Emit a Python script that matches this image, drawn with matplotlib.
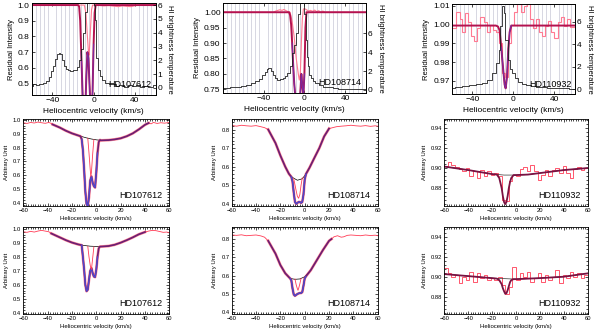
import numpy as np
import matplotlib
matplotlib.use('Agg')
import matplotlib.pyplot as plt
from matplotlib.ticker import MultipleLocator, FormatStrFormatter

plt.rcParams['font.family'] = ['Liberation Sans', 'DejaVu Sans']

# ---------------- top row: residual intensity + HI brightness temperature
stars = ['HD107612', 'HD108714', 'HD110932']

p1_hi_v = [-60, -57, -54, -51, -48, -45, -42, -40, -38, -36, -34, -33, -32, -30, -28, -26, -24, -21,
           -18, -15, -13, -11, -9.5, -7, -5, -3, -1, 1, 2, 3.5, 5, 7, 10, 13, 17, 20, 23, 27, 31, 35,
           39, 43, 47, 51, 55, 60]
p1_hi_t = [0.15, 0.25, 0.18, 0.3, 0.35, 0.5, 0.8, 1.2, 1.6, 2.1, 2.45, 2.55, 2.45, 2.0, 1.6, 1.35, 1.3,
           1.2, 1.3, 1.55, 2.0, 2.8, 4.0, 5.5, 6.5, 7.0, 7.0, 6.0, 4.9, 2.2, 1.3, 0.83, 0.55, 0.36, 0.25,
           0.3, 0.12, 0.2, 0.1, 0.18, 0.12, 0.2, 0.08, 0.15, 0.1, 0.18]
p1_fit_v = [-60, -15, -14, -13, -12, -11, -10, -9, -8, -7, -6, -5, -4, -3, -2, -1, 0, 1, 2, 60]
p1_fit_i = [1, 1, 0.99, 0.9, 0.7, 0.5, 0.3, 0.25, 0.35, 0.55, 0.7, 0.66, 0.5, 0.35, 0.3, 0.45, 0.75,
            0.95, 1, 1]
p1_obs_v = [-60, -30, -20, -15, -10, -9, -7.5, -6, -5, -4.5, -4, -3, -2, -1, 0, 5, 10, 15, 20, 24, 28,
            32, 36, 40, 45, 50, 60]
p1_obs_i = [1, 1, 0.998, 1, 1, 1, 0.95, 0.8, 0.7, 0.68, 0.72, 0.85, 0.97, 1, 1, 0.998, 0.995, 0.997,
            0.993, 0.99, 0.995, 0.992, 0.99, 0.996, 1, 1, 1]

p2_hi_v = [-80, -75, -70, -65, -60, -55, -50, -46, -43, -40, -38, -36, -35, -34, -32, -30, -28, -25,
           -22, -20, -18, -16, -13, -10.5, -9, -7.3, -5, -3, -1, 0.5, 1.7, 3, 4, 5.5, 7, 9, 12, 16,
           20, 25, 30, 35, 40, 45, 50, 55, 60]
p2_hi_t = [0.18, 0.25, 0.3, 0.35, 0.42, 0.55, 0.7, 0.95, 1.2, 1.6, 1.9, 2.25, 2.36, 2.3, 2.0, 1.6,
           1.27, 1.06, 1.15, 1.3, 1.5, 1.77, 2.5, 3.9, 4.8, 6.0, 8.0, 9.5, 10.0, 8.0, 5.3, 3.5, 2.5,
           1.6, 1.3, 0.95, 0.7, 0.5, 0.35, 0.28, 0.2, 0.15, 0.14, 0.1, 0.12, 0.08, 0.07]
p2_fit_v = [-80, -15, -14, -13, -12, -11, -10, -9, -8, -7, -6, -5, -4, -3, -2, -1, 0, 1, 2, 60]
p2_fit_i = [1, 1, 0.99, 0.96, 0.9, 0.83, 0.77, 0.73, 0.71, 0.70, 0.72, 0.70, 0.74, 0.80, 0.76, 0.73,
            0.8, 0.95, 1.0, 1.0]
p2_obs_v = [-80, -30, -28, -26, -24, -22, -20, -18, -16, -14, -12, -10, -8, -6, -5, -4, -3, -2, -1,
            0, 2, 4, 6, 8, 10, 12, 14, 16, 18, 20, 22, 60]
p2_obs_i = [1, 1, 1.004, 1.006, 1.008, 1.006, 1.009, 1.005, 1.002, 1.0, 0.97, 0.92, 0.85, 0.8, 0.78,
            0.8, 0.9, 0.98, 1.01, 1.012, 1.008, 1.004, 1.006, 1.003, 1.007, 1.002, 1.005, 1.0, 1.004,
            1.0, 1.0, 1.0]

p3_hi_v = [-60, -53, -46, -40, -33, -28, -23, -18, -15, -13.4, -11.8, -10.2, -8.5, -6.9, -4.3, -2,
           0, 3, 6, 10, 15, 19, 25, 30, 35, 42, 50, 58, 60]
p3_hi_t = [0.09, 0.2, 0.27, 0.35, 0.48, 0.6, 0.83, 1.42, 2.3, 3.5, 5.6, 7.4, 6.8, 4.4, 2.6, 1.8,
           1.42, 1.0, 0.68, 0.5, 0.38, 0.3, 0.22, 0.18, 0.12, 0.1, 0.08, 0.06, 0.07]
p3_fit_v = [-60, -17, -15, -13.4, -11.8, -10.2, -8.5, -7.5, -6.2, -4.9, -3.6, -2, 60]
p3_fit_i = [0.9995, 0.9995, 0.999, 0.997, 0.988, 0.978, 0.968, 0.966, 0.972, 0.987, 0.996, 0.9995, 0.9995]
p3_obs_edges = [-60, -56, -52, -50, -47, -44, -41, -38, -35, -32, -29, -26, -23, -20, -17, -14, -11,
                -8, -5, -2, 1, 4, 7, 10, 13, 16, 19, 22, 25, 28, 31, 34, 37, 40, 43, 46, 49, 52, 55, 60]
p3_obs_i = [0.998, 1.0067, 1.003, 0.996, 1.006, 1.0015, 0.994, 0.991, 0.998, 1.004, 1.0015, 0.996,
            1.0, 0.997, 0.996, 0.990, 0.974, 0.972, 0.990, 1.0, 1.007, 1.011, 1.007, 1.01, 1.011,
            1.003, 0.998, 1.003, 0.996, 0.994, 0.999, 1.002, 0.996, 0.993, 1.0015, 1.004, 0.999,
            1.003, 0.9985]

# ---------------- middle / bottom rows: HD107612 and HD108714 (smooth spectra)
m1_lw_v = [-60, -57, -54, -51, -48, -45, -42, -39, -37, -36]
m1_lw_y = [0.98, 0.975, 0.982, 0.978, 0.985, 0.98, 0.976, 0.982, 0.975, 0.968]
m1_rw_v = [43, 45, 47, 50, 53, 56, 60]
m1_rw_y = [0.978, 0.972, 0.982, 0.975, 0.98, 0.977, 0.982]
m1_cont_v = [-36, -30, -25, -20, -15, -12, -8, -4, 0, 4, 10, 15, 20, 25, 30, 35, 40, 43]
m1_cont_y = [0.968, 0.945, 0.922, 0.903, 0.888, 0.88, 0.87, 0.862, 0.856, 0.852, 0.854, 0.859,
             0.867, 0.882, 0.903, 0.932, 0.965, 0.978]
m1_fit_v = [-36, -30, -25, -20, -15, -13, -12, -11, -10, -9, -8, -7, -6, -5, -4, -3, -2, -1, 0, 1,
            2, 3, 4, 10, 15, 20, 25, 30, 35, 40, 43]
m1_fit_y = [0.968, 0.945, 0.922, 0.903, 0.888, 0.882, 0.86, 0.78, 0.64, 0.48, 0.39, 0.375, 0.44,
            0.56, 0.59, 0.545, 0.52, 0.51, 0.62, 0.76, 0.84, 0.855, 0.852, 0.854, 0.859, 0.867, 0.882,
            0.903, 0.932, 0.965, 0.978]
m1_comp_v = [-7, -6, -5, -4.5, -4, -3, -2]
m1_comp_y = [0.868, 0.76, 0.64, 0.59, 0.62, 0.75, 0.858]

b1_lw_v = [-60, -57, -54, -51, -48, -45, -42, -39, -37]
b1_lw_y = [0.98, 0.976, 0.983, 0.978, 0.985, 0.99, 0.985, 0.98, 0.968]
b1_rw_v = [40, 43, 46, 49, 52, 55, 58, 60]
b1_rw_y = [0.978, 0.985, 0.99, 0.988, 0.982, 0.976, 0.978, 0.972]
b1_cont_v = [-37, -30, -25, -20, -15, -10, -5, 0, 5, 10, 15, 20, 25, 30, 35, 40]
b1_cont_y = [0.968, 0.94, 0.92, 0.903, 0.89, 0.882, 0.877, 0.875, 0.875, 0.878, 0.887, 0.902, 0.92,
             0.94, 0.962, 0.978]
b1_fit_v = [-37, -30, -25, -20, -15, -12, -11, -10, -9, -8, -7, -6, -5, -4, -3, -2, -1, 0, 1, 2, 3,
            5, 10, 15, 20, 25, 30, 35, 40]
b1_fit_y = [0.968, 0.94, 0.92, 0.903, 0.89, 0.884, 0.80, 0.71, 0.60, 0.555, 0.566, 0.637, 0.70,
            0.72, 0.685, 0.66, 0.656, 0.71, 0.80, 0.862, 0.874, 0.875, 0.878, 0.887, 0.902, 0.92,
            0.94, 0.962, 0.978]
b1_comp_v = [-7, -6, -5, -4, -3, -2]
b1_comp_y = [0.876, 0.80, 0.74, 0.71, 0.79, 0.872]

m2_lw_v = [-60, -56, -52, -48, -44, -40, -36, -33, -30]
m2_lw_y = [0.822, 0.818, 0.823, 0.82, 0.818, 0.821, 0.815, 0.81, 0.80]
m2_rw_v = [20, 23, 26, 30, 34, 38, 42, 46, 50, 54, 58, 60]
m2_rw_y = [0.805, 0.81, 0.815, 0.818, 0.82, 0.823, 0.82, 0.818, 0.821, 0.817, 0.82, 0.818]
m2_cont_v = [-30, -24, -20, -16, -13, -10, -6, -2, 0, 4, 8, 12, 16, 20]
m2_cont_y = [0.80, 0.727, 0.66, 0.60, 0.562, 0.542, 0.527, 0.535, 0.552, 0.595, 0.648, 0.70, 0.763,
             0.805]
m2_fit_v = [-30, -24, -20, -16, -13, -11, -10, -9, -8, -7, -6, -5, -4, -3, -2, -1, 0, 1, 4, 8, 12,
            16, 20]
m2_fit_y = [0.80, 0.727, 0.66, 0.60, 0.562, 0.545, 0.52, 0.46, 0.41, 0.40, 0.405, 0.41, 0.41, 0.405,
            0.41, 0.45, 0.53, 0.56, 0.595, 0.648, 0.70, 0.763, 0.805]
m2_comp_v = [-9, -7, -6, -5, -4, -3, -2]
m2_comp_y = [0.535, 0.47, 0.44, 0.43, 0.45, 0.50, 0.54]

b2_lw_v = [-60, -56, -52, -48, -44, -40, -36, -33, -30]
b2_lw_y = [0.822, 0.82, 0.823, 0.818, 0.82, 0.822, 0.817, 0.81, 0.79]
b2_rw_v = [22, 24, 27, 30, 32, 35, 38, 42, 46, 50, 54, 58, 60]
b2_rw_y = [0.80, 0.812, 0.818, 0.81, 0.812, 0.82, 0.822, 0.82, 0.818, 0.822, 0.819, 0.821, 0.818]
b2_cont_v = [-30, -24, -20, -16, -12, -8, -4, 0, 5, 10, 15, 20, 22]
b2_cont_y = [0.79, 0.72, 0.658, 0.613, 0.585, 0.58, 0.582, 0.594, 0.63, 0.685, 0.74, 0.79, 0.80]
b2_fit_v = [-30, -24, -20, -16, -12, -11, -10, -9, -8, -7, -6, -5, -4, -3, -2, -1, 0, 1, 5, 10, 15,
            20, 22]
b2_fit_y = [0.79, 0.72, 0.658, 0.613, 0.585, 0.575, 0.53, 0.497, 0.49, 0.495, 0.50, 0.503, 0.505,
            0.505, 0.51, 0.545, 0.585, 0.596, 0.63, 0.685, 0.74, 0.79, 0.80]
b2_comp_v = [-8, -7, -6, -5.5, -5, -4, -3]
b2_comp_y = [0.582, 0.55, 0.528, 0.52, 0.53, 0.555, 0.585]

# ---------------- HD110932 (noisy, 3 km/s channels)
chan_edges = np.arange(-60, 61, 3)
m3_obs = [0.902, 0.906, 0.903, 0.9015, 0.899, 0.897, 0.900, 0.8916, 0.8966, 0.890,
          0.898, 0.8916, 0.8966, 0.893, 0.895, 0.8916, 0.868, 0.8667, 0.8866, 0.893,
          0.8916, 0.899, 0.9015, 0.8966, 0.903, 0.8966, 0.888, 0.893, 0.898, 0.8916,
          0.898, 0.900, 0.895, 0.902, 0.895, 0.890, 0.899, 0.9015, 0.898, 0.900]
m3_cont_v = [-60, -40, -20, -10, 0, 10, 20, 40, 60]
m3_cont_y = [0.9015, 0.898, 0.894, 0.893, 0.893, 0.8935, 0.895, 0.898, 0.900]
m3_fit_v = [-60, -40, -20, -16, -14, -12, -11, -10, -9, -8, -7, -6, -5, -4, -2, 0, 10, 20, 40, 60]
m3_fit_y = [0.9015, 0.898, 0.894, 0.8935, 0.890, 0.880, 0.872, 0.866, 0.864, 0.866, 0.872, 0.880,
            0.886, 0.890, 0.893, 0.893, 0.8935, 0.895, 0.898, 0.900]

b3_obs = [0.9087, 0.9037, 0.9004, 0.902, 0.8938, 0.9004, 0.897, 0.9054, 0.8955, 0.9037,
          0.8988, 0.902, 0.897, 0.8988, 0.897, 0.9004, 0.8922, 0.8833, 0.8905, 0.9103,
          0.897, 0.9037, 0.9004, 0.9054, 0.8955, 0.8988, 0.9037, 0.8955, 0.902, 0.897,
          0.9004, 0.907, 0.8938, 0.902, 0.8988, 0.9054, 0.9004, 0.9037, 0.8988, 0.902]
b3_cont_v = [-60, -40, -20, 0, 20, 40, 60]
b3_cont_y = [0.903, 0.901, 0.899, 0.898, 0.899, 0.9004, 0.9037]
b3_fit_v = [-60, -40, -20, -16, -14, -12, -11, -10, -9, -8, -7, -6, -5, -4, -2, 0, 20, 40, 60]
b3_fit_y = [0.903, 0.901, 0.899, 0.8985, 0.897, 0.893, 0.889, 0.886, 0.8835, 0.884, 0.887, 0.891,
            0.895, 0.897, 0.898, 0.898, 0.899, 0.9004, 0.9037]

RED = '#ff3b55'
PINK = '#ff7a92'
CRIMSON = '#b3124f'
PURPLE = '#6c1f74'
BLUE = '#5048cc'
GRID = '#c8c8d6'

fig = plt.figure(figsize=(6, 3.32), dpi=100)
W, H = 600.0, 332.0


def box(l, r, t, b):
    return [l / W, 1 - b / H, (r - l) / W, (b - t) / H]


def style(ax, size):
    ax.tick_params(which='both', direction='in', top=True, right=True, labelsize=size, width=0.5)
    ax.tick_params(which='major', length=2.5, pad=1.5)
    ax.tick_params(which='minor', length=1.2)
    for s in ax.spines.values():
        s.set_linewidth(0.6)


# ---- top row
top_boxes = [box(31.7, 155.5, 3.5, 94.5), box(222.7, 365.7, 3.3, 92.7), box(451.7, 575, 4, 94)]
top_xlim = [(-60, 60), (-80, 60), (-60, 60)]
top_ylim = [(0.43, 1.01), (0.739, 1.029), (0.963, 1.011)]
top_tlim = [(-0.48, 6.12), (-0.29, 9.17), (-0.42, 7.6)]
top_yt = [np.arange(0.5, 1.01, 0.1), np.arange(0.75, 1.01, 0.05), np.arange(0.97, 1.011, 0.01)]
top_yfmt = ['%.1f', '%.2f', '%.2f']
top_tt = [np.arange(0, 7, 1), np.arange(0, 7, 2), np.arange(0, 7, 2)]
top_hi = [(p1_hi_v, p1_hi_t), (p2_hi_v, p2_hi_t), (p3_hi_v, p3_hi_t)]
top_fit = [(p1_fit_v, p1_fit_i), (p2_fit_v, p2_fit_i), (p3_fit_v, p3_fit_i)]

for k in range(3):
    ax = fig.add_axes(top_boxes[k])
    ax.set_xlim(*top_xlim[k])
    ax.set_ylim(*top_ylim[k])
    ax.xaxis.set_minor_locator(MultipleLocator(4))
    ax.grid(True, which='minor', axis='x', color=GRID, lw=0.5)
    ax.set_axisbelow(True)
    ax.set_xticks([-40, 0, 40])
    ax.set_yticks(top_yt[k])
    ax.yaxis.set_major_formatter(FormatStrFormatter(top_yfmt[k]))
    style(ax, 6)
    ax.tick_params(which='minor', axis='x', length=0)
    ax.tick_params(right=False)
    ax.set_ylabel('Residual Intensity', fontsize=5.5, labelpad=2)
    ax.set_xlabel('Heliocentric velocity (km/s)', fontsize=6, labelpad=3)

    if k == 2:
        ax.stairs(p3_obs_i, p3_obs_edges, color=PINK, lw=0.8, baseline=None)
    elif k == 0:
        ax.plot(p1_obs_v, p1_obs_i, color=PINK, lw=0.8)
    else:
        ax.plot(p2_obs_v, p2_obs_i, color=PINK, lw=0.8)
    fv, fi = top_fit[k]
    ax.plot(fv, fi, color=CRIMSON, lw=1.4)
    fv = np.array(fv)
    dip = (fv >= -12) & (fv <= 0)
    ax.plot(fv[dip], np.array(fi)[dip], color='#7a2aa0', lw=0.8)

    ax2 = ax.twinx()
    ax2.set_ylim(*top_tlim[k])
    ax2.set_yticks(top_tt[k])
    style(ax2, 6)
    ax2.tick_params(left=False, top=False)
    hv, ht = top_hi[k]
    ax2.plot(hv, ht, color='#222222', lw=0.6, drawstyle='steps-mid')
    ax2.set_ylabel('HI brightness temperature', fontsize=5.5, rotation=270, labelpad=8)
    ax2.text(0.97, 0.06, stars[k], transform=ax2.transAxes, ha='right', va='bottom', fontsize=6.5)

# ---- middle and bottom rows
cols_l = [(23.3, 169.3), (231.7, 377.7), (444.3, 587.7)]
rows_tb = [(119.3, 205.7), (227.3, 314.3)]
ylims = [[(0.378, 1.005), (0.39, 0.855), (0.8624, 0.9487)],
         [(0.39, 1.012), (0.389, 0.864), (0.8632, 0.9493)]]
yticks = [np.arange(0.4, 1.01, 0.1), np.arange(0.4, 0.81, 0.1), np.arange(0.88, 0.941, 0.02)]
yfmt = ['%.1f', '%.1f', '%.2f']
yminor = [0.02, 0.02, 0.004]

smooth = [[(m1_lw_v, m1_lw_y, m1_rw_v, m1_rw_y, m1_cont_v, m1_cont_y, m1_fit_v, m1_fit_y,
            m1_comp_v, m1_comp_y),
           (m2_lw_v, m2_lw_y, m2_rw_v, m2_rw_y, m2_cont_v, m2_cont_y, m2_fit_v, m2_fit_y,
            m2_comp_v, m2_comp_y)],
          [(b1_lw_v, b1_lw_y, b1_rw_v, b1_rw_y, b1_cont_v, b1_cont_y, b1_fit_v, b1_fit_y,
            b1_comp_v, b1_comp_y),
           (b2_lw_v, b2_lw_y, b2_rw_v, b2_rw_y, b2_cont_v, b2_cont_y, b2_fit_v, b2_fit_y,
            b2_comp_v, b2_comp_y)]]
noisy = [(m3_obs, m3_cont_v, m3_cont_y, m3_fit_v, m3_fit_y),
         (b3_obs, b3_cont_v, b3_cont_y, b3_fit_v, b3_fit_y)]

for r in range(2):
    for c in range(3):
        ax = fig.add_axes(box(cols_l[c][0], cols_l[c][1], rows_tb[r][0], rows_tb[r][1]))
        ax.set_xlim(-60, 60)
        ax.set_ylim(*ylims[r][c])
        ax.set_xticks(np.arange(-60, 61, 20))
        ax.xaxis.set_minor_locator(MultipleLocator(2))
        ax.set_yticks(yticks[c])
        ax.yaxis.set_minor_locator(MultipleLocator(yminor[c]))
        ax.yaxis.set_major_formatter(FormatStrFormatter(yfmt[c]))
        style(ax, 4.2)
        ax.set_ylabel('Arbitrary Unit', fontsize=4.3, labelpad=3)
        ax.set_xlabel('Heliocentric velocity (km/s)', fontsize=4.3, labelpad=2)

        if c < 2:
            lv, ly, rv, ry, cv, cy, fv, fy, pv, py = smooth[r][c]
            ax.plot(lv, ly, color=RED, lw=0.6)
            ax.plot(rv, ry, color=RED, lw=0.6)
            ax.plot(cv, cy, color='black', lw=0.5)
            ax.plot(fv, fy, color=RED, lw=2.0, alpha=0.6)
            ax.plot(fv, fy, color=PURPLE, lw=1.2)
            fv = np.array(fv)
            dip = (fv >= -12) & (fv <= 1)
            ax.plot(fv[dip], np.array(fy)[dip], color=BLUE, lw=1.0)
            ax.plot(pv, py, color=RED, lw=0.6)
        else:
            ob, cv, cy, fv, fy = noisy[r]
            ax.stairs(ob, chan_edges, color=RED, lw=0.6, baseline=None)
            ax.plot(cv, cy, color='#333333', lw=0.5)
            ax.plot(fv, fy, color='#7a1242', lw=1.3)
        ax.text(0.95, 0.07, stars[c], transform=ax.transAxes, ha='right', va='bottom', fontsize=6.5)

fig.savefig('out.png', dpi=100)
